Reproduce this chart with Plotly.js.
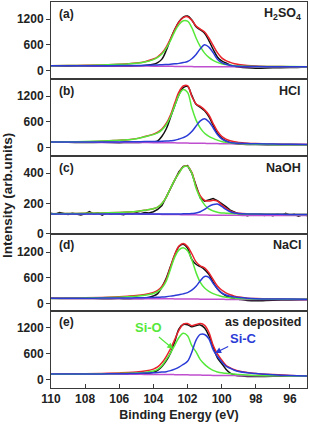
<!DOCTYPE html>
<html><head><meta charset="utf-8">
<script src="https://cdn.plot.ly/plotly-3.0.1.min.js"></script>
<style>html,body{margin:0;padding:0;background:#fff}#chart{width:309px;height:426px}</style>
</head><body><div id="chart"></div>
<script>
// Binding energy grid (eV)
const E = [110,109,108,107,106,105.5,105,104.5,104,103.75,103.5,103.25,103,102.75,102.5,102.25,102,101.75,101.5,101.25,101,100.75,100.5,100.25,100,99.75,99.5,99.25,99,98.5,98,97,96,95];
// finer grid for the noisy NaOH spectrum
const Ec = [110,109.75,109.5,109.25,109,108.75,108.5,108.25,108,107.75,107.5,107.25,107,106.75,106.5,106.25,106,105.75,105.5,105.25,105,104.75,104.5,104.25,104,103.75,103.5,103.25,103,102.75,102.5,102.25,102,101.75,101.5,101.25,101,100.75,100.5,100.25,100,99.75,99.5,99.25,99,98.75,98.5,98.25,98,97.75,97.5,97.25,97,96.75,96.5,96.25,96,95.75,95.5,95.25,95];

// (a) H2SO4
const aExp = [112,108,110,106,108,105,112,125,150,190,270,470,730,960,1140,1245,1270,1180,1020,950,870,700,500,320,230,180,132,105,88,68,58,68,75,90];
const aFit = [118,120,126,136,152,163,180,212,272,325,410,550,740,950,1130,1235,1255,1170,1040,965,900,760,590,420,300,235,195,165,148,125,112,100,96,93];
const aSiO = [118,120,125,135,150,160,175,205,260,310,390,520,700,910,1070,1160,1150,1000,760,560,410,310,240,195,165,145,130,118,112,105,102,100,98,96];
const aSiC = [118,118,118,119,120,122,124,127,132,136,140,146,153,162,172,190,215,280,380,510,605,550,420,270,190,150,125,112,105,99,97,95,94,93];
const aBg  = [116,115,114,113,112,111,110,109,107,106,105,104,103,102,101,100,98,97,96,95,94,94,93,93,93,92,92,92,92,92,92,91,91,90];
// (b) HCl
const bExp = [120,118,112,118,110,115,112,120,130,150,260,430,700,980,1240,1400,1430,1220,1010,940,860,720,520,330,220,150,110,90,80,70,66,63,62,62];
const bFit = [125,128,133,142,168,180,205,255,310,355,430,560,760,1040,1300,1440,1450,1200,1020,960,880,760,560,380,260,195,155,130,115,98,88,78,72,68];
const bSiO = [125,130,137,148,165,178,200,250,300,340,410,530,720,980,1230,1360,1290,930,640,450,330,260,210,170,140,120,105,95,88,80,75,70,66,63];
const bSiC = [125,125,126,127,128,130,132,135,138,140,143,148,155,165,195,230,280,370,500,620,672,600,460,300,200,150,115,102,95,88,83,78,74,70];
const bBg  = [122,121,119,117,115,114,113,112,111,110,110,109,108,106,104,102,100,98,96,95,94,92,90,88,86,85,84,83,82,80,78,76,72,68];
// (c) NaOH
const cExp = [135,128,140,132,126,135,130,124,131,145,130,137,122,138,128,133,130,125,135,130,138,132,140,136,145,160,185,240,300,360,410,445,450,400,310,235,215,225,232,218,200,178,155,140,130,128,118,125,122,130,120,126,118,128,121,134,122,128,115,124,120];
const cFit = [132,133,134,136,140,143,147,155,165,175,200,240,300,355,402,442,447,405,310,250,220,215,220,215,190,168,150,140,135,131,129,128,127,126];
const cSiO = [132,133,134,136,140,143,147,155,165,175,200,240,300,355,400,440,445,400,300,235,190,163,150,142,137,135,133,132,131,130,129,128,127,126];
const cSiC = [130,130,130,130,130,130,130,130,130,130,130,130,130,130,130,131,131,133,136,145,160,180,192,196,180,160,145,137,133,130,129,128,127,126];
const cBg  = [130,130,130,129,129,129,129,128,128,128,127,127,127,126,126,125,125,124,124,123,123,122,122,122,122,121,121,121,121,120,120,120,120,120];
// (d) NaCl
const dExp = [120,115,118,112,115,110,118,125,175,230,390,590,860,1130,1330,1380,1290,1030,915,860,790,680,500,345,245,180,140,115,100,72,62,75,82,88];
const dFit = [124,126,132,142,158,170,185,212,260,305,395,560,850,1140,1340,1400,1330,1160,970,880,830,720,560,410,315,250,203,172,150,125,115,106,102,100];
const dSiO = [116,120,126,135,148,158,170,195,235,275,360,520,800,1080,1250,1300,1230,1020,720,490,360,285,230,195,165,148,135,126,119,110,105,100,98,97];
const dSiC = [124,124,125,126,128,130,132,136,142,146,152,160,172,188,205,225,255,310,400,530,630,610,470,345,250,198,168,150,138,122,113,106,103,101];
const dBg  = [118,117,116,115,114,114,113,112,111,111,110,110,109,108,107,106,105,104,103,102,101,100,99,98,97,96,95,95,94,94,93,92,91,90];
// (e) as deposited
const eExp = [140,135,138,132,136,135,140,150,180,220,310,440,620,880,1180,1280,1275,1225,1255,1270,1200,1020,770,510,380,250,160,115,95,80,78,85,88,92];
const eFit = [138,140,145,152,163,170,182,205,250,300,395,540,720,930,1150,1290,1300,1250,1280,1300,1260,1100,800,600,460,340,280,235,205,170,150,125,105,95];
const eSiO = [131,133,136,142,150,155,162,175,205,245,330,470,620,800,980,1075,1020,790,650,470,360,280,220,185,165,155,145,135,125,112,105,98,94,92];
const eSiC = [138,138,139,140,143,146,150,158,168,175,183,192,215,250,295,360,430,640,920,1050,1050,950,700,540,420,320,270,225,195,165,148,120,102,92];
const eBg  = [135,134,133,132,131,131,130,129,127,127,126,125,125,123,121,119,118,116,114,112,110,108,106,105,104,103,102,101,100,99,98,96,94,93];

const panelLabels = ['(a)','(b)','(c)','(d)','(e)'];
const panelNames = ['H<sub>2</sub>SO<sub>4</sub>','HCl','NaOH','NaCl','as deposited'];
const yTicks = [[0,600,1200],[0,600,1200],[0,200,400],[0,600,1200],[0,600,1200]];
const yRanges = [[-195,1595],[-212,1600],[0,511],[-170,1630],[-185,1595]];
const xTicks = [110,108,106,104,102,100,98,96];

const C = {exp:'#111111', fit:'#e8232b', sio:'#55e83a', sic:'#2b3bd6', bg:'#c04fd0'};
const panels = [
  {x:E, exp:aExp, fit:aFit, sio:aSiO, sic:aSiC, bg:aBg},
  {x:E, exp:bExp, fit:bFit, sio:bSiO, sic:bSiC, bg:bBg},
  {xe:Ec, x:E, exp:cExp, fit:cFit, sio:cSiO, sic:cSiC, bg:cBg},
  {x:E, exp:dExp, fit:dFit, sio:dSiO, sic:dSiC, bg:dBg},
  {x:E, exp:eExp, fit:eFit, sio:eSiO, sic:eSiC, bg:eBg}
];

const FONT = 'Liberation Sans, Arial, Helvetica, sans-serif';
const traces = [];
panels.forEach((p,i)=>{
  const xa = i===0?'x':'x'+(i+1), ya = i===0?'y':'y'+(i+1);
  const lw = 1.5;
  const base = {xaxis:xa, yaxis:ya, mode:'lines', hoverinfo:'skip'};
  traces.push(Object.assign({}, base, {x:p.xe||p.x, y:p.exp, line:{color:C.exp,width:lw, shape: p.xe?'linear':'spline'}}));
  traces.push(Object.assign({}, base, {x:p.x, y:p.fit, line:{color:C.fit,width:lw,shape:'spline'}}));
  traces.push(Object.assign({}, base, {x:p.x, y:p.bg, line:{color:C.bg,width:lw,shape:'spline'}}));
  traces.push(Object.assign({}, base, {x:p.x, y:p.sio, line:{color:C.sio,width:lw,shape:'spline'}}));
  traces.push(Object.assign({}, base, {x:p.x, y:p.sic, line:{color:C.sic,width:lw,shape:'spline'}}));
});

const tickFont = {family:FONT, size:12, color:'#222', weight:'bold'};
const layout = {
  width:309, height:426,
  margin:{l:51, r:2, t:2, b:38},
  paper_bgcolor:'#fff', plot_bgcolor:'#fff',
  showlegend:false,
  annotations:[],
  font:{family:FONT}
};
for(let i=0;i<5;i++){
  const xk = i===0?'xaxis':'xaxis'+(i+1), yk = i===0?'yaxis':'yaxis'+(i+1);
  const xa = i===0?'x':'x'+(i+1), ya = i===0?'y':'y'+(i+1);
  const top = 1 - i*0.2, bot = 1 - (i+1)*0.2;
  const last = i===4;
  layout[xk] = {
    anchor:ya, domain:[0,1], range:[110,95], showgrid:false, zeroline:false,
    showline:true, mirror:true, linecolor:'#3a3a3a', linewidth:1,
    ticks: last?'inside':'', ticklen:4, tickwidth:1, tickcolor:'#3a3a3a',
    tickvals: xTicks, showticklabels:last, tickfont:tickFont
  };
  if(last){ layout[xk].title = {text:'Binding Energy (eV)', font:{family:FONT,size:12.5,color:'#222',weight:'bold'}, standoff:4}; }
  layout[yk] = {
    anchor:xa, domain:[Math.max(0,bot),Math.min(1,top)], range:yRanges[i], showgrid:false, zeroline:false,
    showline:true, mirror:true, linecolor:'#3a3a3a', linewidth:1,
    ticks:'outside', ticklen:4, tickwidth:1, tickcolor:'#3a3a3a',
    tickvals:yTicks[i], tickfont:tickFont
  };
  layout.annotations.push({xref:xa+' domain', yref:ya+' domain', x:0.022, y:0.85, xanchor:'left', yanchor:'middle',
    text:panelLabels[i], showarrow:false, font:{family:FONT,size:12,color:'#222',weight:'bold'}});
  layout.annotations.push({xref:xa+' domain', yref:ya+' domain', x:0.985, y:0.85, xanchor:'right', yanchor:'middle',
    text:panelNames[i], showarrow:false, font:{family:FONT,size:12.5,color:'#222',weight:'bold'}});
}
layout.annotations.push({xref:'paper', yref:'paper', x:-0.172, y:0.5, xanchor:'center', yanchor:'middle', textangle:-90,
  text:'Intensity (arb.units)', showarrow:false, font:{family:FONT,size:13.5,color:'#222',weight:'bold'}});
layout.annotations.push({xref:'x5', yref:'y5', x:102.84, y:715, ax:-25, ay:-21, text:'Si-O', showarrow:true,
  arrowhead:2, arrowsize:1, arrowwidth:1.2, arrowcolor:C.sio, font:{family:FONT,size:13,color:C.sio,weight:'bold'}});
layout.annotations.push({xref:'x5', yref:'y5', x:100.38, y:623, ax:28, ay:-14, text:'Si-C', showarrow:true,
  arrowhead:2, arrowsize:1, arrowwidth:1.2, arrowcolor:C.sic, font:{family:FONT,size:13,color:C.sic,weight:'bold'}});

Plotly.newPlot('chart', traces, layout, {staticPlot:true, displayModeBar:false});
</script></body></html>
